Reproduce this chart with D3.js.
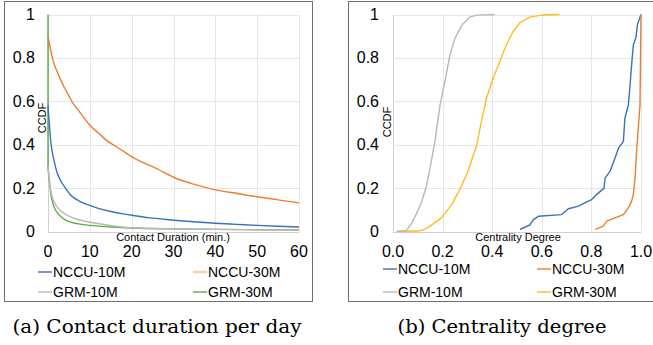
<!DOCTYPE html>
<html>
<head>
<meta charset="utf-8">
<script src="https://cdn.jsdelivr.net/npm/d3@7"></script>
<style>
  body { margin: 0; background: #fff; }
  svg { display: block; }
</style>
</head>
<body>
<svg id="chart" width="653" height="345"></svg>
<script>
// ---- data ----
const ccdfTicks = [0, 0.2, 0.4, 0.6, 0.8, 1];
const durTicks = [0, 10, 20, 30, 40, 50, 60];
const degTicks = [0, 0.2, 0.4, 0.6, 0.8, 1.0];

const seriesNames = ['NCCU-10M', 'NCCU-30M', 'GRM-10M', 'GRM-30M'];

// (a) contact duration per day, [minutes, ccdf]
const nccu10Dur = [[0, 0.58], [0.3, 0.5], [0.7, 0.41], [1.4, 0.33], [2.2, 0.27], [3, 0.235],
  [3.8, 0.21], [5.4, 0.168], [7.8, 0.137], [10, 0.12], [12.4, 0.104], [15, 0.092], [18, 0.081],
  [20.4, 0.074], [24, 0.064], [28.4, 0.055], [34, 0.046], [40, 0.038], [45, 0.033], [50, 0.028],
  [55, 0.024], [60, 0.021]];
const nccu30Dur = [[0, 0.9], [0.3, 0.87], [0.8, 0.82], [1.5, 0.77], [2, 0.745], [3, 0.7], [4, 0.66],
  [5, 0.625], [6, 0.59], [7, 0.565], [8, 0.54], [10, 0.49], [12, 0.455], [14, 0.42], [16, 0.395],
  [18, 0.37], [20, 0.345], [23, 0.315], [26, 0.29], [30, 0.25], [35, 0.217], [40, 0.192], [45, 0.176],
  [50, 0.16], [55, 0.146], [60, 0.132]];
const grm10Dur = [[0, 0.3], [0.4, 0.22], [1, 0.16], [2.2, 0.114], [3.8, 0.084], [6.2, 0.061],
  [9.4, 0.045], [11.8, 0.037], [14, 0.03], [18, 0.02], [22, 0.016], [30, 0.012], [40, 0.01],
  [50, 0.008], [60, 0.007]];
const grm30Dur = [[0, 1], [0, 0.3], [0.24, 0.25], [0.64, 0.177], [1.4, 0.116], [2.6, 0.078],
  [4.6, 0.049], [7, 0.036], [10, 0.028], [15, 0.021], [20, 0.016], [30, 0.012], [40, 0.01],
  [50, 0.008], [60, 0.007]];

// (b) centrality degree, [degree, ccdf]
const nccu10Deg = [[0.512, 0.01], [0.552, 0.03], [0.566, 0.055], [0.586, 0.07], [0.68, 0.078],
  [0.707, 0.105], [0.748, 0.117], [0.781, 0.136], [0.801, 0.147], [0.821, 0.17], [0.851, 0.2],
  [0.855, 0.246], [0.875, 0.277], [0.895, 0.338], [0.909, 0.384], [0.929, 0.415], [0.935, 0.522],
  [0.949, 0.583], [0.956, 0.675], [0.962, 0.766], [0.969, 0.858], [0.98, 0.896], [0.985, 0.95],
  [0.996, 0.988], [1.0, 1.0]];
const nccu30Deg = [[0.815, 0.01], [0.848, 0.025], [0.862, 0.048], [0.895, 0.063], [0.929, 0.078],
  [0.949, 0.109], [0.962, 0.139], [0.969, 0.17], [0.976, 0.246], [0.983, 0.384], [0.996, 0.583],
  [1.0, 1.0]];
const grm10Deg = [[0.014, 0], [0.054, 0.005], [0.074, 0.035], [0.094, 0.08], [0.115, 0.134],
  [0.135, 0.21], [0.155, 0.325], [0.169, 0.415], [0.19, 0.585], [0.209, 0.69], [0.23, 0.815],
  [0.25, 0.89], [0.277, 0.95], [0.31, 0.988], [0.338, 0.997], [0.41, 1.0]];
const grm30Deg = [[0.02, 0], [0.1, 0.002], [0.123, 0.008], [0.149, 0.025], [0.196, 0.063],
  [0.237, 0.125], [0.27, 0.195], [0.303, 0.28], [0.338, 0.4], [0.357, 0.51], [0.377, 0.615],
  [0.405, 0.71], [0.431, 0.785], [0.458, 0.862], [0.485, 0.923], [0.512, 0.962], [0.552, 0.988],
  [0.606, 0.998], [0.671, 1.0]];

const blue = '#3a70bc', orange = '#ed7d31', gray = '#b8b8b8', green = '#5aac44', yellow = '#ffbb22';
const sans = '"Liberation Sans", Arial, sans-serif';

const svg = d3.select('#chart');

function drawPanel(cfg) {
  const g = svg.append('g');

  // frame
  g.append('rect')
    .attr('x', cfg.frame[0]).attr('y', cfg.frame[1])
    .attr('width', cfg.frame[2]).attr('height', cfg.frame[3])
    .attr('fill', 'none').attr('stroke', '#6f6f6f').attr('stroke-width', 1);

  const x = d3.scaleLinear().domain(cfg.xDomain).range(cfg.xRange);
  const y = d3.scaleLinear().domain([0, 1]).range([231.5, 14.5]);

  // grid
  g.append('g').selectAll('line').data(cfg.xTicks).enter().append('line')
    .attr('x1', d => Math.round(x(d)) + 0.5).attr('x2', d => Math.round(x(d)) + 0.5)
    .attr('y1', y(1)).attr('y2', y(0))
    .attr('stroke', d => d === 0 ? '#d0d0d0' : '#e6e6e6').attr('stroke-width', 1);
  g.append('g').selectAll('line').data(ccdfTicks).enter().append('line')
    .attr('x1', x(cfg.xDomain[0])).attr('x2', x(cfg.xDomain[1]))
    .attr('y1', d => Math.round(y(d)) + 0.5).attr('y2', d => Math.round(y(d)) + 0.5)
    .attr('stroke', d => d === 0 ? '#d0d0d0' : '#e6e6e6').attr('stroke-width', 1);

  // tick labels
  g.append('g').selectAll('text').data(ccdfTicks).enter().append('text')
    .attr('x', cfg.yLabelX).attr('y', d => y(d) + 5.5)
    .attr('text-anchor', 'end')
    .style('font-size', '16px').style('font-family', sans)
    .text(d => d3.format('~g')(d));
  g.append('g').selectAll('text').data(cfg.xTicks).enter().append('text')
    .attr('x', d => x(d)).attr('y', 257)
    .attr('text-anchor', 'middle')
    .style('font-size', '16px').style('font-family', sans)
    .text(cfg.xFormat);

  // axis titles
  g.append('text')
    .attr('x', cfg.xTitleX).attr('y', 241)
    .attr('text-anchor', 'middle')
    .style('font-size', '11px').style('font-family', sans)
    .text(cfg.xTitle);
  g.append('text')
    .attr('transform', `translate(${cfg.yTitlePos[0]},${cfg.yTitlePos[1]}) rotate(-90)`)
    .attr('text-anchor', 'middle')
    .style('font-size', '11px').style('font-family', sans)
    .text('CCDF');

  // lines
  const line = d3.line().x(d => x(d[0])).y(d => y(d[1])).curve(cfg.curve);
  const order = [3, 2, 0, 1];
  order.forEach(i => {
    g.append('path')
      .attr('d', line(cfg.series[i]))
      .attr('fill', 'none')
      .attr('stroke', cfg.colors[i])
      .attr('stroke-width', 1.4)
      .attr('stroke-linejoin', 'round');
  });

  // legend
  const leg = g.append('g');
  seriesNames.forEach((name, i) => {
    const lx = cfg.legendX[i % 2];
    const ly = cfg.legendY[Math.floor(i / 2)];
    leg.append('line')
      .attr('x1', lx).attr('x2', lx + 14)
      .attr('y1', ly).attr('y2', ly)
      .attr('stroke', cfg.legendColors[i]).attr('stroke-width', 1.4);
    leg.append('text')
      .attr('x', lx + 15).attr('y', ly + 5)
      .style('font-size', '14px').style('font-family', sans)
      .text(name);
  });

  // caption
  g.append('text')
    .attr('x', cfg.captionX).attr('y', 333)
    .attr('text-anchor', 'middle')
    .style('font-size', '18px').style('font-family', '"DejaVu Serif", "Liberation Serif", serif')
    .attr('textLength', cfg.captionW).attr('lengthAdjust', 'spacingAndGlyphs')
    .text(cfg.caption);
}

drawPanel({
  frame: [4.5, 1.5, 308, 300],
  xDomain: [0, 60], xRange: [48, 299], xTicks: durTicks, xFormat: d => d,
  yLabelX: 35, xTitle: 'Contact Duration (min.)', xTitleX: 173, yTitlePos: [46, 118],
  series: [nccu10Dur, nccu30Dur, grm10Dur, grm30Dur],
  colors: [blue, orange, gray, green],
  legendColors: [blue, '#f4b08a', gray, green],
  curve: d3.curveMonotoneX,
  legendX: [38, 193], legendY: [272, 292],
  caption: '(a) Contact duration per day', captionX: 157, captionW: 289
});

drawPanel({
  frame: [348.5, 1.5, 310, 300],
  xDomain: [0, 1], xRange: [393, 641], xTicks: degTicks, xFormat: d => d.toFixed(1),
  yLabelX: 379, xTitle: 'Centrality Degree', xTitleX: 518, yTitlePos: [391, 122],
  series: [nccu10Deg, nccu30Deg, grm10Deg, grm30Deg],
  colors: [blue, orange, gray, yellow],
  legendColors: [blue, orange, gray, yellow],
  curve: d3.curveLinear,
  legendX: [383, 537], legendY: [269, 292],
  caption: '(b) Centrality degree', captionX: 502, captionW: 209
});
</script>
</body>
</html>
